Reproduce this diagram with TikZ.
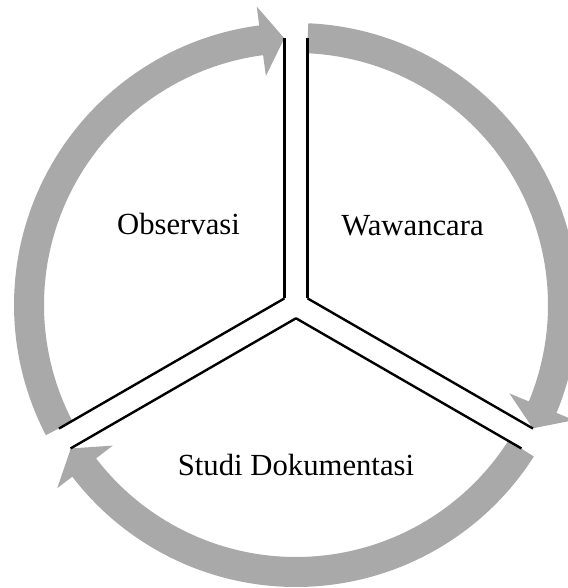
\documentclass[tikz,border=0pt]{standalone}
\usepackage{fontspec}
\setmainfont{Liberation Serif}
\definecolor{ringgray}{HTML}{A9A9A9}
\tikzset{
  cyclearrow/.style={fill=ringgray, draw=none},
  channel/.style={draw=black, line width=2.4pt},
  label/.style={anchor=base, font=\fontsize{30.7}{36}\selectfont, inner sep=0pt}
}
\newcommand{\ringarrow}[3]{% start angle, head back angle, tip angle
  \path[cyclearrow] (#1:282) arc[start angle=#1, end angle=#2, radius=282]
    -- (#2:301) -- (#3:267) -- (#2:231) -- (#2:252)
    arc[start angle=#2, end angle=#1, radius=252] -- cycle;}
\newcommand{\channellines}[1]{%
  \begin{scope}[rotate=#1]
    \draw[channel] (6.64,11.5) -- (267,11.5);
    \draw[channel] (6.64,-11.5) -- (267,-11.5);
  \end{scope}}
\begin{document}
\begin{tikzpicture}[x=1pt,y=1pt]
  \useasboundingbox (-296,-283) rectangle (271,305);
  \coordinate (c) at (0,0);
  \ringarrow{87.5}{-22.5}{-27.5}
  \ringarrow{-32.5}{-142.5}{-147.5}
  \ringarrow{207.5}{97.5}{92.5}
  \channellines{90}
  \channellines{-30}
  \channellines{210}
  \node[label] (obs) at (-117.5,70) {Observasi};
  \node[label] (waw) at (116.5,69) {Wawancara};
  \node[label] (stu) at (0,-170) {Studi Dokumentasi};
\end{tikzpicture}
\end{document}
